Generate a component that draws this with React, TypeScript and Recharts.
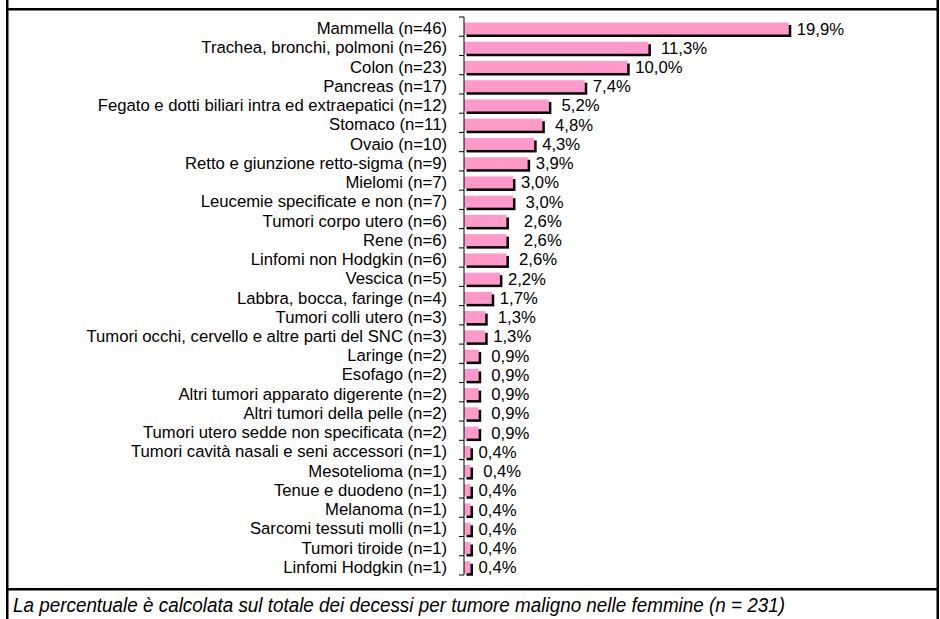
import React from "react";
import { BarChart, Bar, XAxis, YAxis, LabelList } from "recharts";

const categories = [
  "Mammella (n=46)",
  "Trachea, bronchi, polmoni (n=26)",
  "Colon (n=23)",
  "Pancreas (n=17)",
  "Fegato e dotti biliari intra ed extraepatici (n=12)",
  "Stomaco (n=11)",
  "Ovaio (n=10)",
  "Retto e giunzione retto-sigma (n=9)",
  "Mielomi (n=7)",
  "Leucemie specificate e non (n=7)",
  "Tumori corpo utero (n=6)",
  "Rene (n=6)",
  "Linfomi non Hodgkin (n=6)",
  "Vescica (n=5)",
  "Labbra, bocca, faringe (n=4)",
  "Tumori colli utero (n=3)",
  "Tumori occhi, cervello e altre parti del SNC (n=3)",
  "Laringe (n=2)",
  "Esofago (n=2)",
  "Altri tumori apparato digerente (n=2)",
  "Altri tumori della pelle (n=2)",
  "Tumori utero sedde non specificata (n=2)",
  "Tumori cavità nasali e seni accessori (n=1)",
  "Mesotelioma (n=1)",
  "Tenue e duodeno (n=1)",
  "Melanoma (n=1)",
  "Sarcomi tessuti molli (n=1)",
  "Tumori tiroide (n=1)",
  "Linfomi Hodgkin (n=1)",
];

const percentages = [
  19.9, 11.3, 10.0, 7.4, 5.2, 4.8, 4.3, 3.9, 3.0, 3.0, 2.6, 2.6, 2.6, 2.2, 1.7,
  1.3, 1.3, 0.9, 0.9, 0.9, 0.9, 0.9, 0.4, 0.4, 0.4, 0.4, 0.4, 0.4, 0.4,
];

const valueLabels = [
  "19,9%", " 11,3%", "10,0%", "7,4%", " 5,2%", " 4,8%", "4,3%", "3,9%", "3,0%",
  " 3,0%", "  2,6%", "  2,6%", " 2,6%", "2,2%", "1,7%", " 1,3%", "1,3%",
  " 0,9%", " 0,9%", " 0,9%", " 0,9%", " 0,9%", "0,4%", " 0,4%", "0,4%",
  "0,4%", "0,4%", "0,4%", "0,4%",
];

const footnote =
  "La percentuale è calcolata sul totale dei decessi per tumore maligno nelle femmine (n = 231)";

const data = categories.map((name, i) => ({
  name,
  value: percentages[i],
  label: valueLabels[i],
}));

const W = 940;
const H = 619;
const PLOT_LEFT = 464;
const PLOT_TOP = 17;
const PLOT_BOTTOM = 575;
const PLOT_RIGHT = 872;
const BAND = (PLOT_BOTTOM - PLOT_TOP) / categories.length;
const FONT = '"Liberation Sans", Arial, Helvetica, sans-serif';
const PINK = "#FF99CC";
const LABEL_SIZE = 16.7;

const CategoryTick = (props: any) => {
  const { y, payload, index } = props;
  return (
    <g>
      <line
        x1={PLOT_LEFT - 5}
        x2={PLOT_LEFT}
        y1={y - BAND / 2}
        y2={y - BAND / 2}
        stroke="#000"
        strokeWidth={1}
      />
      {index === categories.length - 1 && (
        <line
          x1={PLOT_LEFT - 5}
          x2={PLOT_LEFT}
          y1={y + BAND / 2}
          y2={y + BAND / 2}
          stroke="#000"
          strokeWidth={1}
        />
      )}
      <text
        x={PLOT_LEFT - 17}
        y={y + 7.5}
        textAnchor="end"
        fontSize={LABEL_SIZE}
        fontFamily={FONT}
        fill="#000"
      >
        {payload.value}
      </text>
    </g>
  );
};

const ShadowBar = (props: any) => {
  const { x, y, width, height } = props;
  if (width <= 0) return null;
  const yy = y + 1.5;
  return (
    <g>
      <rect x={x + 2.5} y={yy + 2.5} width={width} height={height} fill="#000" />
      <rect x={x} y={yy} width={width} height={height} fill={PINK} />
    </g>
  );
};

const ValueLabel = (props: any) => {
  const { x, y, width, height, value } = props;
  return (
    <text
      x={x + width + 8}
      y={y + height / 2 + 7.5}
      fontSize={LABEL_SIZE}
      fontFamily={FONT}
      fill="#000"
      style={{ whiteSpace: "pre" }}
    >
      {value}
    </text>
  );
};

export default function App() {
  return (
    <div
      style={{
        position: "absolute",
        left: 0,
        top: 0,
        width: W,
        height: H,
        background: "#fff",
      }}
    >
      <BarChart
        width={W}
        height={H}
        data={data}
        layout="vertical"
        margin={{ top: PLOT_TOP, right: W - PLOT_RIGHT, bottom: H - PLOT_BOTTOM, left: 0 }}
        barSize={12}
      >
        <XAxis type="number" domain={[0, 25]} hide />
        <YAxis
          type="category"
          dataKey="name"
          width={PLOT_LEFT}
          interval={0}
          tickLine={false}
          axisLine={{ stroke: "#000", strokeWidth: 1 }}
          tick={<CategoryTick />}
        />
        <Bar dataKey="value" shape={<ShadowBar />} isAnimationActive={false}>
          <LabelList dataKey="label" content={<ValueLabel />} />
        </Bar>
      </BarChart>
      <svg
        width={W}
        height={H}
        style={{ position: "absolute", left: 0, top: 0, pointerEvents: "none" }}
      >
        <rect x={6} y={0} width={2.5} height={H} fill="#000" />
        <rect x={936.5} y={0} width={2.5} height={H} fill="#000" />
        <rect x={6} y={8} width={932} height={2.5} fill="#000" />
        <rect x={6} y={588} width={932} height={2.5} fill="#000" />
        <text
          x={13}
          y={612}
          fontSize={20.5}
          fontStyle="italic"
          fontFamily={FONT}
          fill="#000"
          textLength={772}
          lengthAdjust="spacingAndGlyphs"
        >
          {footnote}
        </text>
      </svg>
    </div>
  );
}
